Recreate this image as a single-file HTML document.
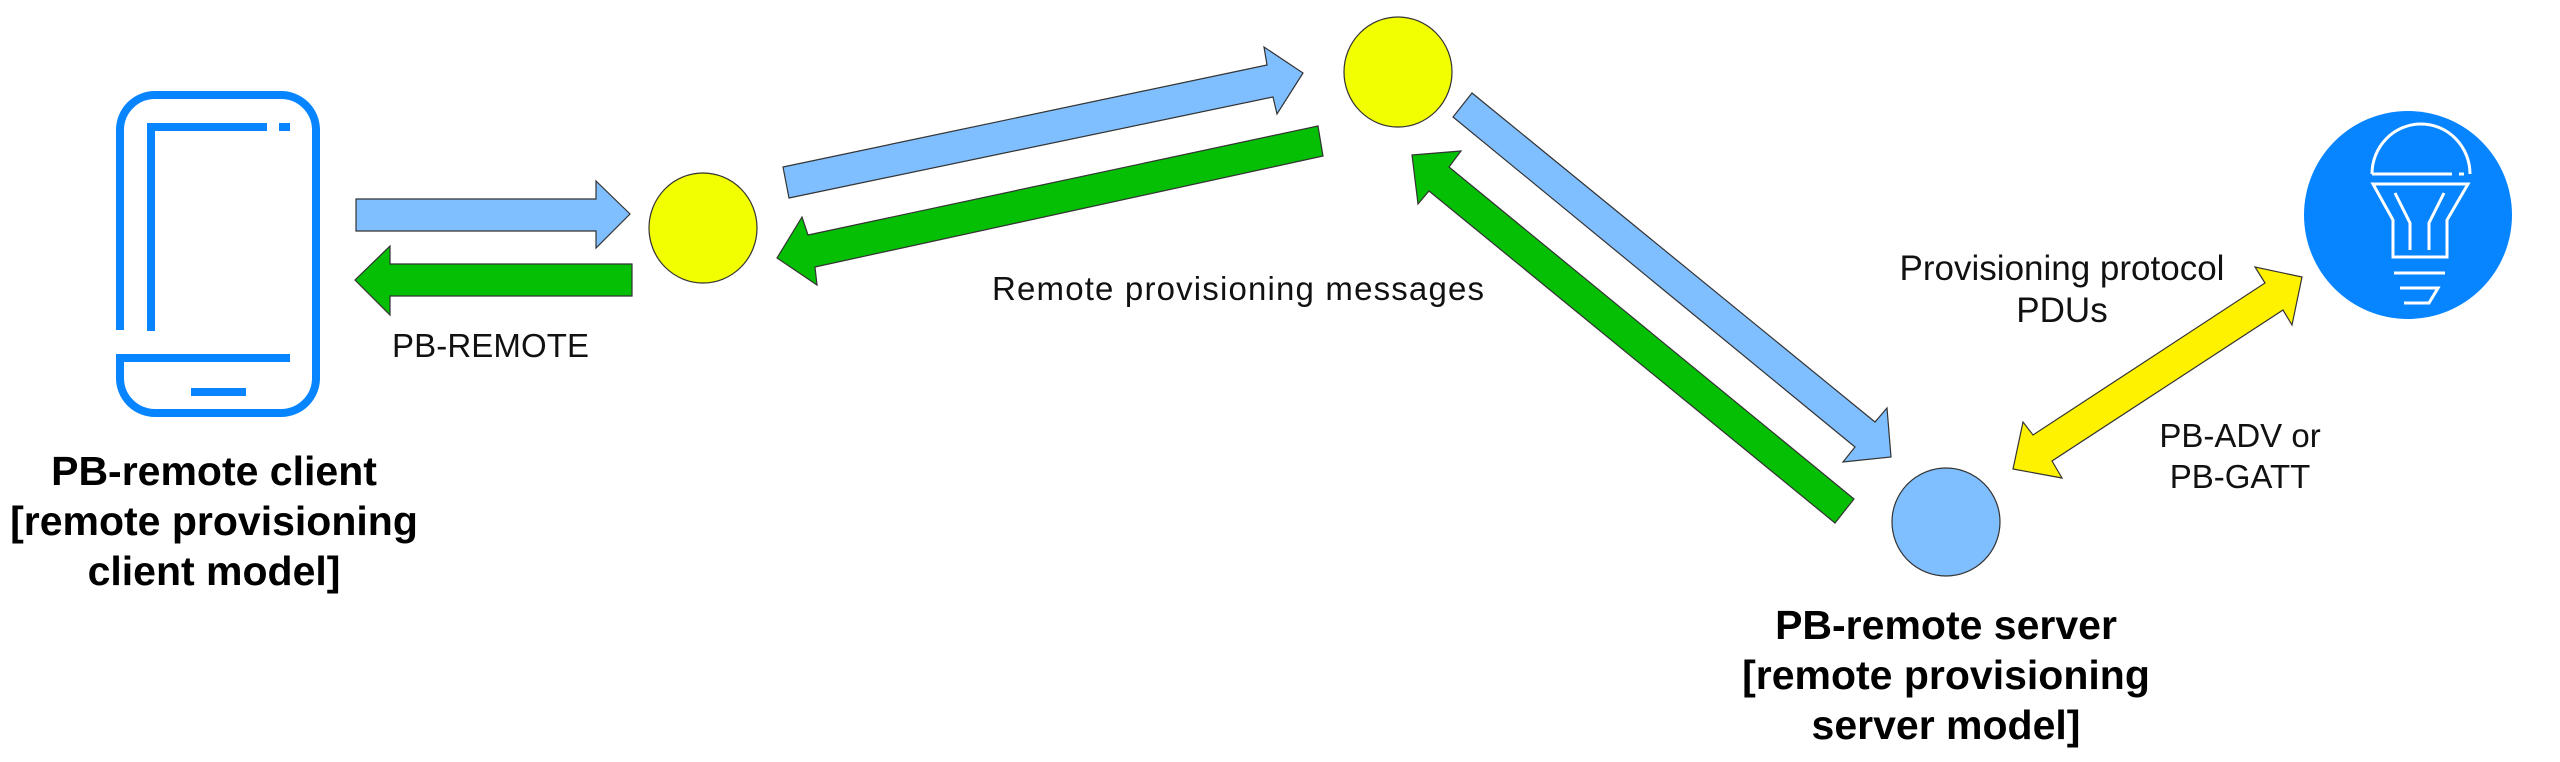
<!DOCTYPE html>
<html><head><meta charset="utf-8"><style>
html,body{margin:0;padding:0;background:#fff;}
svg{display:block;}
text{font-family:"Liberation Sans",sans-serif;fill:#111;}
.b{font-weight:bold;font-size:41px;fill:#000;}
.n{font-size:33px;}
</style></head><body>
<svg width="2560" height="762" viewBox="0 0 2560 762" xmlns="http://www.w3.org/2000/svg">
<rect width="2560" height="762" fill="#fff"/>
<!-- phone -->
<g fill="none" stroke="#0784FF" stroke-width="8">
<path d="M120 330 V130 A35 35 0 0 1 155 95 H281 A35 35 0 0 1 316 130 V378 A35 35 0 0 1 281 413 H155 A35 35 0 0 1 120 378 V354"/>
<path d="M151 331 L151 127 H267"/>
<path d="M116 358 H290"/>
</g>
<rect x="279" y="123" width="11" height="8" fill="#0784FF"/>
<rect x="191" y="388" width="55" height="8" fill="#0784FF"/>
<text class="b" text-anchor="middle" x="214" y="485">PB-remote client</text>
<text class="b" text-anchor="middle" x="214" y="535">[remote provisioning</text>
<text class="b" text-anchor="middle" x="214" y="585">client model]</text>
<!-- arrows -->
<g stroke="#333" stroke-width="1.2">
<polygon fill="#80BFFF" points="356,199 596,199 596,181 630,214 596,248 596,231 356,231"/>
<polygon fill="#04BF04" points="632,264 390,264 390,246 355,280 390,315 390,296 632,296"/>
<ellipse cx="703" cy="228" rx="54" ry="55" fill="#F2FF00"/>
<ellipse cx="1398" cy="72" rx="54" ry="55" fill="#F2FF00"/>
<polygon fill="#80BFFF" points="783,167 1267,65 1264,47 1303,73 1277,114 1273,97 789,198"/>
<polygon fill="#04BF04" points="1318,126 808,235 802,217 777,258 817,285 815,267 1323,156"/>
<polygon fill="#80BFFF" points="1472,93 1875,422 1887,408 1891,457 1843,462 1855,447 1453,117"/>
<polygon fill="#04BF04" points="1412,155 1461,151 1449,167 1854,499 1835,523 1429,191 1418,204"/>
<ellipse cx="1946" cy="522" rx="54" ry="54" fill="#80BFFF"/>
<polygon fill="#FFF200" points="2302,277 2292,325 2283,310 2052,461 2062,478 2013,469 2023,422 2033,435 2265,283 2255,267"/>
</g>
<text class="n" x="392" y="357" textLength="197">PB-REMOTE</text>
<text class="n" x="992" y="300" textLength="492">Remote provisioning messages</text>
<text class="n" text-anchor="middle" x="2062" y="280" font-size="35" style="font-size:35px">Provisioning protocol</text>
<text class="n" text-anchor="middle" x="2062" y="322" style="font-size:35px">PDUs</text>
<text class="n" text-anchor="middle" x="2240" y="447">PB-ADV or</text>
<text class="n" text-anchor="middle" x="2240" y="488">PB-GATT</text>
<text class="b" text-anchor="middle" x="1946" y="639">PB-remote server</text>
<text class="b" text-anchor="middle" x="1946" y="689">[remote provisioning</text>
<text class="b" text-anchor="middle" x="1946" y="739">server model]</text>
<!-- bulb -->
<circle cx="2408" cy="215" r="104" fill="#0784FF"/>
<g fill="none" stroke="#fff" stroke-width="3">
<path d="M2372 174 A49 50 0 0 1 2470 174"/>
<path d="M2372 174 H2452"/>
<path d="M2459 174 H2464"/>
<path d="M2373 184 H2468 L2447 220 V257 H2393 V220 Z"/>
<path d="M2395 193 L2410 223 V250"/>
<path d="M2444 193 L2429 223 V250"/>
<path d="M2394 273 H2445"/>
<path d="M2400 288 H2438 L2429 303 H2404"/>
</g>
</svg>
</body></html>
